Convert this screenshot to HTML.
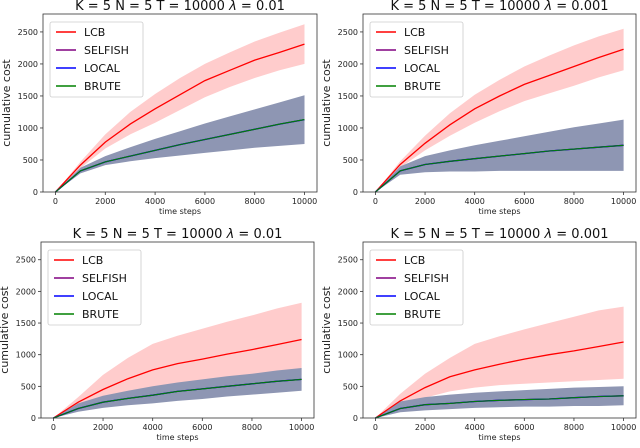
<!DOCTYPE html>
<html><head><meta charset="utf-8"><style>
body{margin:0;background:#fff;width:640px;height:443px;overflow:hidden;font-family:"Liberation Sans","DejaVu Sans",sans-serif}
svg text{font-family:"DejaVu Sans","Liberation Sans",sans-serif}
</style></head><body>
<svg id="fig" width="640" height="443" xmlns="http://www.w3.org/2000/svg"></svg>
<script>
const steps=[0,1000,2000,3000,4000,5000,6000,7000,8000,9000,10000];
const yTicks=[0,500,1000,1500,2000,2500];
const xTicks=[0,2000,4000,6000,8000,10000];
const seriesNames=["LCB","SELFISH","LOCAL","BRUTE"];
const titlePre="K = 5 N = 5 T = 10000 ";
const lambdas=["0.01","0.001","0.01","0.001"];
// panel 1
const lcb1=[0,420,780,1060,1300,1520,1740,1900,2060,2180,2310];
const lcb1Hi=[0,470,900,1250,1530,1780,2000,2180,2350,2490,2620];
const lcb1Lo=[0,370,680,900,1080,1280,1480,1640,1780,1900,2000];
const oth1=[0,330,470,560,650,740,820,900,980,1060,1130];
const oth1Hi=[0,380,560,700,830,950,1070,1180,1290,1400,1510];
const oth1Lo=[0,290,420,480,530,570,610,650,690,720,750];
// panel 2
const lcb2=[0,430,760,1050,1300,1500,1680,1820,1960,2100,2230];
const lcb2Hi=[0,480,880,1230,1520,1750,1960,2130,2290,2430,2550];
const lcb2Lo=[0,380,650,880,1080,1260,1420,1540,1660,1790,1900];
const oth2=[0,330,430,480,520,560,600,640,670,700,730];
const oth2Hi=[0,400,560,650,730,800,870,940,1010,1070,1130];
const oth2Lo=[0,270,310,320,320,330,330,330,330,330,330];
// panel 3
const lcb3=[0,250,450,620,760,860,930,1010,1080,1160,1240];
const lcb3Hi=[0,330,680,950,1170,1300,1410,1520,1620,1730,1820];
const lcb3Lo=[0,170,280,370,450,500,540,580,610,650,680];
const oth3=[0,150,250,310,360,420,460,500,540,580,610];
const oth3Hi=[0,230,350,430,500,560,610,660,700,750,790];
const oth3Lo=[0,100,160,200,230,270,300,340,370,400,430];
// panel 4
const lcb4=[0,270,480,650,760,850,930,1000,1060,1130,1200];
const lcb4Hi=[0,380,700,950,1170,1290,1400,1500,1600,1700,1760];
const lcb4Lo=[0,180,320,420,480,520,540,560,580,600,620];
const oth4=[0,150,210,230,260,280,290,300,320,340,350];
const oth4Hi=[0,260,330,370,400,420,440,460,480,490,500];
const oth4Lo=[0,90,120,140,160,170,180,180,190,190,200];

const panels=[
 {L:43,R:317,T:14,B:192,lcb:lcb1,lh:lcb1Hi,ll:lcb1Lo,o:oth1,oh:oth1Hi,ol:oth1Lo},
 {L:363,R:636,T:14,B:192,lcb:lcb2,lh:lcb2Hi,ll:lcb2Lo,o:oth2,oh:oth2Hi,ol:oth2Lo},
 {L:41,R:314,T:242,B:418,lcb:lcb3,lh:lcb3Hi,ll:lcb3Lo,o:oth3,oh:oth3Hi,ol:oth3Lo},
 {L:363,R:636,T:242,B:418,lcb:lcb4,lh:lcb4Hi,ll:lcb4Lo,o:oth4,oh:oth4Hi,ol:oth4Lo}
];
const NS="http://www.w3.org/2000/svg";
const svg=document.getElementById('fig');
function mk(tag,attrs,parent,text){const e=document.createElementNS(NS,tag);for(const k in attrs)e.setAttribute(k,attrs[k]);if(text!==undefined)e.textContent=text;(parent||svg).appendChild(e);return e;}
panels.forEach((p,i)=>{
 const g=mk('g',{});
 
 
 const sx=v=>p.L+(v+500)/11000*(p.R-p.L);
 const y0=p.B, ppu=(p.B-p.T)/2780;
 const sy=v=>y0-v*ppu;
 const line=a=>a.map((v,j)=>(j?'L':'M')+sx(steps[j]).toFixed(1)+','+sy(v).toFixed(1)).join('');
 const band=(hi,lo)=>hi.map((v,j)=>(j?'L':'M')+sx(steps[j]).toFixed(1)+','+sy(v).toFixed(1)).join('')+lo.slice().reverse().map((v,j)=>'L'+sx(steps[steps.length-1-j]).toFixed(1)+','+sy(v).toFixed(1)).join('')+'Z';
 let e=mk('path',{d:band(p.lh,p.ll),fill:'#ffcccc'},g);
 
 
 e=mk('path',{d:band(p.oh,p.ol),fill:'#8e96b3'},g);
 
 
 e=mk('path',{d:line(p.lcb),fill:'none',stroke:'#ff0000','stroke-width':1.3},g);
 
 
 e=mk('path',{d:line(p.o),fill:'none',stroke:'#800080','stroke-width':1.3},g);
 
 
 e=mk('path',{d:line(p.o),fill:'none',stroke:'#0000ff','stroke-width':1.3},g);
 
 
 e=mk('path',{d:line(p.o),fill:'none',stroke:'#008000','stroke-width':1.1},g);
 
 
 e=mk('rect',{x:p.L,y:p.T,width:p.R-p.L,height:p.B-p.T,fill:'none',stroke:'#333','stroke-width':0.8},g);
 
 
 yTicks.forEach(t=>{
  mk('line',{x1:p.L-3,x2:p.L,y1:sy(t),y2:sy(t),stroke:'#333','stroke-width':0.8},g);
  e=mk('text',{x:p.L-5,y:sy(t)+3,'font-size':8,'text-anchor':'end',fill:'#222'},g,t);
  
  
 });
 xTicks.forEach(t=>{
  mk('line',{x1:sx(t),x2:sx(t),y1:p.B,y2:p.B+3,stroke:'#333','stroke-width':0.8},g);
  e=mk('text',{x:sx(t),y:p.B+12,'font-size':8,'text-anchor':'middle',fill:'#222'},g,t);
  
  
 });
 e=mk('text',{x:(p.L+p.R)/2,y:p.B+22,'font-size':8,'text-anchor':'middle',fill:'#222'},g,'time steps');
 
 
 const yc=(p.T+p.B)/2, xl=p.L-33;
 e=mk('text',{x:xl,y:yc,'font-size':11,'text-anchor':'middle',fill:'#222',transform:`rotate(-90 ${xl} ${yc})`},g,'cumulative cost');
 
 
 e=mk('text',{x:(p.L+p.R)/2,y:p.T-4,'font-size':13,'text-anchor':'middle',fill:'#111'},g);
 
 
 mk('tspan',{},e,titlePre);
 mk('tspan',{'font-style':'italic'},e,'λ');
 mk('tspan',{},e,' = '+lambdas[i]);
 const lg=mk('g',{},g);
 
 
 mk('rect',{x:p.L+7,y:p.T+8,width:93,height:75,rx:2,fill:'#fff','fill-opacity':0.85,stroke:'#ccc','stroke-width':0.8},lg);
 const cols=['#ff0000','#800080','#0000ff','#008000'];
 seriesNames.forEach((n,k)=>{
  const yy=p.T+18+k*18;
  mk('line',{x1:p.L+13,x2:p.L+33,y1:yy,y2:yy,stroke:cols[k],'stroke-width':1.4},lg);
  e=mk('text',{x:p.L+41,y:yy+4,'font-size':11,fill:'#111'},lg,n);
  
  
 });
});
</script>
</body></html>
